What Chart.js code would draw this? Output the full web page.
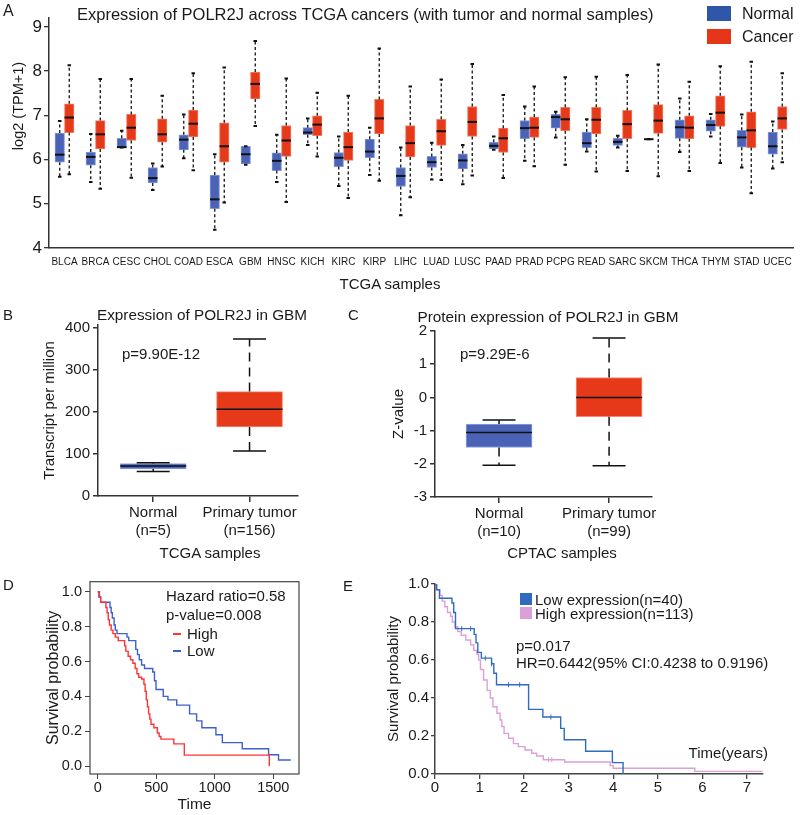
<!DOCTYPE html>
<html>
<head>
<meta charset="utf-8">
<script src="https://cdn.jsdelivr.net/npm/chart.js@4.4.1/dist/chart.umd.min.js"></script>
<style>
body { margin: 0; background: #fff; }
#fig { position: relative; width: 800px; height: 815px; overflow: hidden; font-family: "Liberation Sans", Arial, sans-serif; color: #1a1a1a; }
canvas { position: absolute; }
.l { position: absolute; white-space: nowrap; line-height: 1; transform: translateY(-50%); }
.c { position: absolute; white-space: nowrap; line-height: 1; transform: translate(-50%, -50%); }
.v { position: absolute; white-space: nowrap; line-height: 1; transform: translate(-50%, -50%) rotate(-90deg); }
.sw { position: absolute; }
</style>
</head>
<body>
<div id="fig">
  <canvas id="cA" width="800" height="292" style="left:0;top:0"></canvas>
  <canvas id="cB" width="320" height="262" style="left:0;top:300px"></canvas>
  <canvas id="cC" width="320" height="262" style="left:360px;top:300px"></canvas>
  <canvas id="cD" width="320" height="245" style="left:0;top:570px"></canvas>
  <canvas id="cE" width="430" height="245" style="left:370px;top:570px"></canvas>

  <!-- panel A text -->
  <div class="l" style="left:3px;top:11px;font-size:16px">A</div>
  <div class="l" style="left:77px;top:14px;font-size:16.5px">Expression of POLR2J across TCGA cancers (with tumor and normal samples)</div>
  <div class="sw" style="left:707px;top:6px;width:24px;height:15px;background:#2f56a8"></div>
  <div class="l" style="left:742px;top:14px;font-size:16px">Normal</div>
  <div class="sw" style="left:707px;top:29px;width:24px;height:15px;background:#e6361a"></div>
  <div class="l" style="left:742px;top:37px;font-size:16px">Cancer</div>
  <div class="v" style="left:18px;top:106px;font-size:14.5px">log2 (TPM+1)</div>
  <div class="c" style="left:390px;top:283px;font-size:15px">TCGA samples</div>

  <!-- panel B / C text -->
  <div class="l" style="left:3px;top:314px;font-size:15px">B</div>
  <div class="c" style="left:202px;top:315px;font-size:15.3px">Expression of POLR2J in GBM</div>
  <div class="l" style="left:122px;top:353px;font-size:15px">p=9.90E-12</div>
  <div class="c" style="left:210px;top:552px;font-size:15px">TCGA samples</div>
  <div class="l" style="left:348px;top:314px;font-size:15px">C</div>
  <div class="c" style="left:548px;top:317px;font-size:15.3px">Protein expression of POLR2J in GBM</div>
  <div class="l" style="left:460px;top:353px;font-size:15px">p=9.29E-6</div>
  <div class="c" style="left:562px;top:552px;font-size:15px">CPTAC samples</div>

  <!-- panel D text -->
  <div class="l" style="left:3px;top:584px;font-size:15px">D</div>
  <div class="l" style="left:166px;top:595px;font-size:15px">Hazard ratio=0.58</div>
  <div class="l" style="left:166px;top:614px;font-size:15px">p-value=0.008</div>
  <div class="sw" style="left:173px;top:633px;width:8px;height:1.5px;background:#ff3535"></div>
  <div class="l" style="left:187px;top:633px;font-size:15px">High</div>
  <div class="sw" style="left:173px;top:650px;width:8px;height:1.5px;background:#3d5fd1"></div>
  <div class="l" style="left:187px;top:650px;font-size:15px">Low</div>

  <!-- panel E text -->
  <div class="l" style="left:343px;top:585px;font-size:15px">E</div>
  <div class="sw" style="left:520px;top:593px;width:12px;height:12px;background:#2f6cc0"></div>
  <div class="l" style="left:535px;top:599px;font-size:15px">Low expression(n=40)</div>
  <div class="sw" style="left:520px;top:607px;width:12px;height:12px;background:#dba0d8"></div>
  <div class="l" style="left:535px;top:613px;font-size:15px">High expression(n=113)</div>
  <div class="l" style="left:516px;top:645px;font-size:15px">p=0.017</div>
  <div class="l" style="left:516px;top:662px;font-size:15px">HR=0.6442(95% CI:0.4238 to 0.9196)</div>
  <div class="l" style="right:32px;top:752px;font-size:15px">Time(years)</div>
</div>

<script>
// ---- panel A: POLR2J across TCGA cancers (log2 TPM+1) ----
var cancers = ['BLCA','BRCA','CESC','CHOL','COAD','ESCA','GBM','HNSC','KICH','KIRC','KIRP','LIHC',
               'LUAD','LUSC','PAAD','PRAD','PCPG','READ','SARC','SKCM','THCA','THYM','STAD','UCEC'];
var normalMin = [5.61,5.49,6.27,5.31,6.03,4.41,5.88,5.49,6.33,5.40,5.65,4.74,5.55,5.44,6.22,5.97,6.50,6.18,6.27,6.46,6.17,6.52,5.82,5.80];
var normalQ1  = [5.94,5.87,6.27,5.47,6.22,4.89,5.90,5.75,6.56,5.84,6.04,5.39,5.82,5.79,6.24,6.47,6.71,6.27,6.32,6.455,6.48,6.64,6.28,6.12];
var normalMed = [6.11,6.06,6.28,5.58,6.45,5.10,6.12,5.97,6.61,6.04,6.18,5.63,5.94,5.98,6.31,6.71,6.96,6.37,6.40,6.46,6.73,6.78,6.50,6.30];
var normalQ3  = [6.60,6.17,6.48,5.82,6.56,5.65,6.30,6.15,6.72,6.16,6.46,5.82,6.07,6.13,6.39,6.88,7.02,6.62,6.48,6.465,6.90,6.90,6.66,6.62];
var normalMax = [6.87,6.58,6.65,5.91,7.02,6.12,6.30,6.56,6.93,6.52,6.72,6.27,6.38,6.33,6.52,7.20,7.08,6.91,6.54,6.46,7.38,7.03,7.02,6.86];
var cancerMin = [5.67,5.34,5.59,5.84,5.76,5.03,6.76,5.04,6.07,5.13,5.52,5.15,5.54,5.64,5.58,5.85,5.88,5.73,5.74,5.62,5.74,5.92,5.24,5.94];
var cancerQ1  = [6.61,6.24,6.43,6.39,6.51,5.94,7.37,6.07,6.54,5.98,6.58,6.06,6.32,6.52,6.16,6.50,6.65,6.58,6.47,6.59,6.47,6.75,6.27,6.68];
var cancerMed = [6.95,6.57,6.72,6.57,6.81,6.30,7.71,6.43,6.79,6.28,6.93,6.37,6.64,6.85,6.48,6.72,6.91,6.90,6.80,6.88,6.72,7.06,6.66,6.93];
var cancerQ3  = [7.26,6.88,7.02,6.92,7.12,6.83,7.98,6.77,6.99,6.62,7.36,6.77,6.91,7.20,6.71,6.96,7.18,7.18,7.11,7.24,6.99,7.44,7.08,7.20];
var cancerMax = [8.13,7.82,7.82,7.44,7.95,8.08,8.68,7.83,7.51,7.44,8.51,7.65,7.81,8.16,7.46,7.65,7.86,7.87,7.91,8.15,7.76,8.11,8.21,7.95];
var aTicks = [4,5,6,7,8,9];

// ---- panel B: TCGA GBM, transcripts per million ----
var bLabels = [['Normal','(n=5)'], ['Primary tumor','(n=156)']];
var bMin = [58, 107];
var bQ1  = [64, 164];
var bMed = [71, 206];
var bQ3  = [77, 248];
var bMax = [79, 373];
var bTicks = [0,100,200,300,400];

// ---- panel C: CPTAC GBM protein, Z-value ----
var cLabels = [['Normal','(n=10)'], ['Primary tumor','(n=99)']];
var cMin = [-2.04, -2.06];
var cQ1  = [-1.51, -0.58];
var cMed = [-1.06, 0.00];
var cQ3  = [-0.80, 0.60];
var cMax = [-0.68, 1.79];
var cTicks = [-3,-2,-1,0,1,2];

// ---- panel D: survival (days) ----
var dHighTime = [0,15,25,70,80,90,100,115,130,150,175,230,240,260,280,300,320,335,350,375,395,405,415,425,435,445,455,480,510,525,540,650,740,1466];
var dHighSurv = [1.0,0.97,0.94,0.91,0.88,0.84,0.81,0.78,0.76,0.74,0.72,0.69,0.66,0.63,0.61,0.59,0.56,0.53,0.51,0.50,0.47,0.43,0.38,0.34,0.30,0.27,0.24,0.22,0.19,0.17,0.155,0.128,0.063,0.0];
var dLowTime  = [0,10,25,105,115,125,140,150,165,250,265,325,340,355,375,400,470,485,498,560,600,675,785,845,890,1010,1065,1235,1460,1545,1650];
var dLowSurv  = [1.0,0.97,0.94,0.91,0.88,0.85,0.81,0.78,0.76,0.74,0.72,0.67,0.64,0.61,0.58,0.56,0.54,0.49,0.44,0.40,0.38,0.35,0.30,0.26,0.22,0.18,0.135,0.10,0.065,0.035,0.035];
var dXTicks = [0,500,1000,1500];
var dYTicks = [0,0.2,0.4,0.6,0.8,1.0];

// ---- panel E: survival (years) ----
var eLowTime  = [0,0.03,0.1,0.38,0.42,0.46,0.88,0.92,0.96,1.04,1.27,1.32,1.38,2.1,2.42,2.82,2.9,3.38,3.98,4.22];
var eLowSurv  = [1.0,0.97,0.925,0.90,0.85,0.765,0.735,0.69,0.64,0.61,0.58,0.53,0.47,0.34,0.30,0.24,0.18,0.12,0.06,0.0];
var eHighTime = [0,0.05,0.11,0.16,0.22,0.28,0.35,0.39,0.45,0.51,0.59,0.69,0.80,0.87,0.94,0.98,1.02,1.09,1.17,1.24,1.30,1.39,1.46,1.50,1.55,1.65,1.76,1.87,2.02,2.17,2.28,2.43,2.91,3.93,4.0,5.83,7.35];
var eHighSurv = [1.0,0.97,0.94,0.91,0.88,0.85,0.83,0.80,0.775,0.75,0.73,0.705,0.68,0.65,0.63,0.60,0.55,0.495,0.44,0.40,0.354,0.32,0.284,0.25,0.214,0.188,0.16,0.144,0.126,0.109,0.095,0.075,0.063,0.044,0.03,0.014,0.014];
var eLowCensorTime  = [0.6,0.8,1.13,1.27,1.65,1.9,2.6];
var eLowCensorSurv  = [0.765,0.765,0.61,0.58,0.47,0.47,0.30];
var eHighCensorTime = [2.55,2.62];
var eHighCensorSurv = [0.075,0.075];
var eXTicks = [0,1,2,3,4,5,6,7];
var eYTicks = [0,0.1,0.2,0.3,0.4,0.5,0.6,0.7,0.8,0.9,1.0];

Chart.defaults.font.family = '"Liberation Sans", Arial, sans-serif';
Chart.defaults.color = '#1a1a1a';

// whiskers + median drawn on top of the floating bars, using the y scale
var boxWhiskers = {
    id: 'boxWhiskers',
    afterDatasetsDraw(chart) {
        var ctx = chart.ctx;
        var yScale = chart.scales.y;
        chart.data.datasets.forEach(function(ds, di) {
            var w = ds.whisker;
            if (!w) return;
            chart.getDatasetMeta(di).data.forEach(function(bar, i) {
                var top = Math.min(bar.y, bar.base);
                var bottom = Math.max(bar.y, bar.base);
                var half = bar.width / 2;
                var hi = yScale.getPixelForValue(w.max[i]);
                var lo = yScale.getPixelForValue(w.min[i]);
                var med = yScale.getPixelForValue(w.med[i]);
                ctx.save();
                ctx.strokeStyle = '#111';
                ctx.lineWidth = w.lineWidth;
                ctx.setLineDash(w.dash);
                ctx.beginPath();
                if (hi < top - 0.5) { ctx.moveTo(bar.x, top); ctx.lineTo(bar.x, hi); }
                if (lo > bottom + 0.5) { ctx.moveTo(bar.x, bottom); ctx.lineTo(bar.x, lo); }
                ctx.stroke();
                ctx.setLineDash([]);
                ctx.lineWidth = w.capWidth;
                ctx.beginPath();
                ctx.moveTo(bar.x - w.cap / 2, hi); ctx.lineTo(bar.x + w.cap / 2, hi);
                ctx.moveTo(bar.x - w.cap / 2, lo); ctx.lineTo(bar.x + w.cap / 2, lo);
                ctx.stroke();
                ctx.lineWidth = w.medWidth;
                ctx.beginPath();
                ctx.moveTo(bar.x - half, med); ctx.lineTo(bar.x + half, med);
                ctx.stroke();
                ctx.restore();
            });
        });
    }
};

// full box around the plot area (panel D)
var frame = {
    id: 'frame',
    afterDraw(chart) {
        var a = chart.chartArea, ctx = chart.ctx;
        ctx.save();
        ctx.strokeStyle = '#444';
        ctx.lineWidth = 1.2;
        ctx.strokeRect(a.left, a.top, a.right - a.left, a.bottom - a.top);
        ctx.restore();
    }
};

function fixTicks(list) {
    return function(axis) { axis.ticks = list.map(function(v) { return { value: v }; }); };
}
function pairs(xs, ys) {
    return xs.map(function(x, i) { return { x: x, y: ys[i] }; });
}
function plain(v) { return String(v); }
var noPlugins = { legend: { display: false }, tooltip: { enabled: false } };

// Panel A
new Chart(document.getElementById('cA'), {
    type: 'bar',
    data: {
        labels: cancers,
        datasets: [{
            label: 'Normal',
            data: normalQ1.map(function(v, i) { return [v, normalQ3[i]]; }),
            backgroundColor: '#4a63b6', borderColor: '#8298dc', borderWidth: 1, borderSkipped: false,
            barThickness: 9.5,
            whisker: { min: normalMin, med: normalMed, max: normalMax, cap: 3.5, capWidth: 2, lineWidth: 1.3, dash: [3, 2.5], medWidth: 2 }
        }, {
            label: 'Cancer',
            data: cancerQ1.map(function(v, i) { return [v, cancerQ3[i]]; }),
            backgroundColor: '#e6391a', borderColor: '#f47d60', borderWidth: 1, borderSkipped: false,
            barThickness: 9.5,
            whisker: { min: cancerMin, med: cancerMed, max: cancerMax, cap: 3.5, capWidth: 2, lineWidth: 1.3, dash: [3, 2.5], medWidth: 2 }
        }]
    },
    options: {
        responsive: false, animation: false,
        layout: { padding: { top: 18, right: 7, left: 0, bottom: 0 } },
        plugins: noPlugins,
        scales: {
            x: {
                grid: { display: false, drawTicks: false },
                border: { display: true, color: '#333', width: 1.5 },
                ticks: { autoSkip: false, maxRotation: 0, minRotation: 0, padding: 8, font: { size: 10 } },
                afterFit: function(s) { s.height = 44; }
            },
            y: {
                min: 4, max: 9.2,
                afterBuildTicks: fixTicks(aTicks),
                grid: { display: true, drawOnChartArea: false, tickLength: 5, color: '#333', lineWidth: 1.3 },
                border: { display: true, color: '#333', width: 1.5 },
                ticks: { padding: 2, font: { size: 17 } },
                afterFit: function(s) { s.width = 49; }
            }
        }
    },
    plugins: [boxWhiskers]
});

// Panels B and C share one layout
function gbmBox(id, labels, q1, q3, min, med, max, yMin, yMax, yTicks, xMin, xMax, yTitle, titlePad, yWidth, padTop, padRight, xHeight) {
    return new Chart(document.getElementById(id), {
        type: 'bar',
        data: {
            datasets: [{
                data: [{ x: 1, y: [q1[0], q3[0]] }, { x: 2, y: [q1[1], q3[1]] }],
                backgroundColor: ['#4a63b6', '#e6391a'],
                borderColor: ['#8fa3e2', '#f58a6c'],
                borderWidth: 1, borderSkipped: false,
                barThickness: 66,
                whisker: { min: min, med: med, max: max, cap: 33, capWidth: 1.5, lineWidth: 1.5, dash: [9, 6], medWidth: 1.5 }
            }]
        },
        options: {
            responsive: false, animation: false,
            layout: { padding: { top: padTop, right: padRight, left: 0, bottom: 0 } },
            plugins: noPlugins,
            scales: {
                x: {
                    type: 'linear', min: xMin, max: xMax, offset: false,
                    afterBuildTicks: fixTicks([1, 2]),
                    grid: { display: true, drawOnChartArea: false, offset: false, tickLength: 6, color: '#333', lineWidth: 1.5 },
                    border: { display: true, color: '#333', width: 1.5 },
                    ticks: { padding: 1, font: { size: 15, lineHeight: 1.25 }, callback: function(v, i) { return labels[i]; } },
                    afterFit: function(s) { s.height = xHeight; }
                },
                y: {
                    min: yMin, max: yMax,
                    afterBuildTicks: fixTicks(yTicks),
                    grid: { display: true, drawOnChartArea: false, tickLength: 5, color: '#333', lineWidth: 1.5 },
                    border: { display: true, color: '#333', width: 1.5 },
                    ticks: { padding: 3, font: { size: 15 }, callback: plain },
                    title: { display: true, text: yTitle, font: { size: 15 }, padding: { top: titlePad, bottom: 0 } },
                    afterFit: function(s) { s.width = yWidth; }
                }
            }
        },
        plugins: [boxWhiskers]
    });
}
gbmBox('cB', bLabels, bQ1, bQ3, bMin, bMed, bMax, 0, 406, bTicks, 0.427, 2.503, 'Transcript per million', 41, 98, 25, 22, 66);
gbmBox('cC', cLabels, cQ1, cQ3, cMin, cMed, cMax, -3, 2, cTicks, 0.418, 2.39, 'Z-value', 30, 75, 31, 28, 65);

// Panel D (Kaplan-Meier, horizontal then vertical steps)
new Chart(document.getElementById('cD'), {
    type: 'line',
    data: {
        datasets: [{
            label: 'High', data: pairs(dHighTime, dHighSurv),
            borderColor: '#ff3535', borderWidth: 1.4, stepped: 'before', pointRadius: 0
        }, {
            label: 'Low', data: pairs(dLowTime, dLowSurv),
            borderColor: '#3d5fd1', borderWidth: 1.4, stepped: 'before', pointRadius: 0
        }]
    },
    options: {
        responsive: false, animation: false,
        layout: { padding: { top: 8, right: 21, left: 0, bottom: 0 } },
        plugins: noPlugins,
        scales: {
            x: {
                type: 'linear', min: -66, max: 1720,
                afterBuildTicks: fixTicks(dXTicks),
                grid: { display: true, drawOnChartArea: false, tickLength: 5, color: '#444' },
                border: { display: false },
                ticks: { padding: 0, font: { size: 14.5 }, callback: plain },
                title: { display: true, text: 'Time', font: { size: 15.5 }, padding: { top: 0, bottom: 1 } },
                afterFit: function(s) { s.height = 41; }
            },
            y: {
                min: -0.045, max: 1.058,
                afterBuildTicks: fixTicks(dYTicks),
                grid: { display: true, drawOnChartArea: false, tickLength: 5, color: '#444' },
                border: { display: false },
                ticks: { padding: 3, font: { size: 14.5 }, callback: function(v) { return v.toFixed(1); } },
                title: { display: true, text: 'Survival probability', font: { size: 16 }, padding: { top: 44, bottom: 0 } },
                afterFit: function(s) { s.width = 90; }
            }
        }
    },
    plugins: [frame]
});

// Panel E
new Chart(document.getElementById('cE'), {
    type: 'line',
    data: {
        datasets: [{
            label: 'Low expression(n=40)', data: pairs(eLowTime, eLowSurv),
            borderColor: '#2f6cc0', borderWidth: 1.4, stepped: 'before', pointRadius: 0
        }, {
            label: 'High expression(n=113)', data: pairs(eHighTime, eHighSurv),
            borderColor: '#dba0d8', borderWidth: 1.4, stepped: 'before', pointRadius: 0
        }, {
            label: 'Low censored', data: pairs(eLowCensorTime, eLowCensorSurv), showLine: false,
            pointStyle: 'line', rotation: 90, pointRadius: 2.5, borderColor: '#2f6cc0', borderWidth: 1
        }, {
            label: 'High censored', data: pairs(eHighCensorTime, eHighCensorSurv), showLine: false,
            pointStyle: 'line', rotation: 90, pointRadius: 2.5, borderColor: '#dba0d8', borderWidth: 1
        }]
    },
    options: {
        responsive: false, animation: false,
        layout: { padding: { top: 14, right: 37, left: 0, bottom: 0 } },
        plugins: noPlugins,
        scales: {
            x: {
                type: 'linear', min: 0, max: 7.36,
                afterBuildTicks: fixTicks(eXTicks),
                grid: { display: true, drawOnChartArea: false, tickLength: 5, color: '#444', lineWidth: 1.3 },
                border: { display: true, color: '#444', width: 1.5 },
                ticks: { padding: 0, font: { size: 15 }, callback: plain },
                afterFit: function(s) { s.height = 41; }
            },
            y: {
                min: 0, max: 1.0,
                afterBuildTicks: fixTicks(eYTicks),
                grid: { display: true, drawOnChartArea: false, tickLength: 4, color: '#444', lineWidth: 1.3 },
                border: { display: true, color: '#444', width: 1.5 },
                ticks: { padding: 2, font: { size: 15 }, callback: function(v) { return v.toFixed(1); } },
                title: { display: true, text: 'Survival probability', font: { size: 15 }, padding: { top: 15, bottom: 0 } },
                afterFit: function(s) { s.width = 65; }
            }
        }
    }
});
</script>
</body>
</html>
